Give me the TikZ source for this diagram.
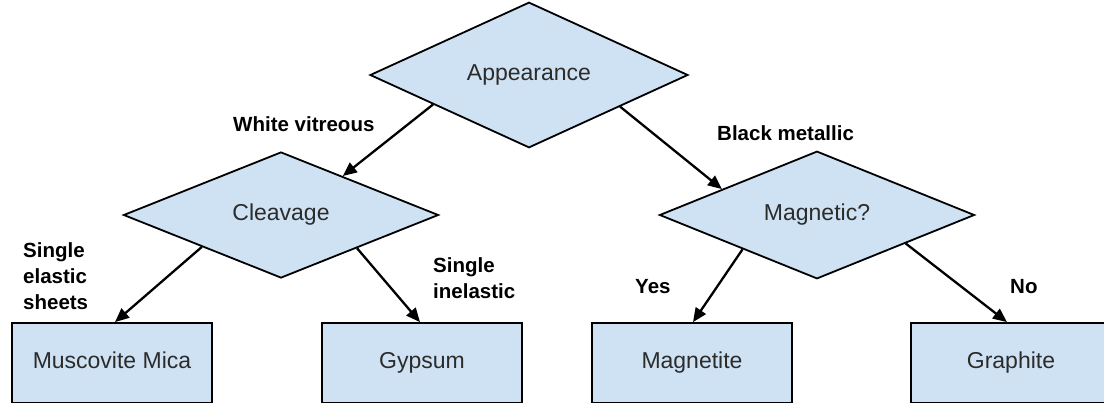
\documentclass[tikz,border=0pt]{standalone}
\usepackage{fontspec}
\setmainfont{Liberation Sans}
\usetikzlibrary{calc, shapes.geometric, arrows.meta}
\definecolor{boxblue}{HTML}{CFE2F3}
\definecolor{textgray}{HTML}{2B2B2B}
\tikzset{
  test/.style = {diamond, draw, line width=1.8pt, fill=boxblue, inner sep=0pt,
    minimum width=315pt, minimum height=126pt, text=textgray,
    text height=16.5pt, text depth=5pt,
    font=\fontsize{23}{27}\selectfont},
  leaf/.style = {rectangle, draw, line width=1.8pt, fill=boxblue,
    minimum width=200pt, minimum height=80pt, text=textgray,
    text height=16.5pt, text depth=5pt,
    font=\fontsize{23}{27}\selectfont},
  branch/.style = {align=left, inner sep=0pt, font=\bfseries\fontsize{20.5}{26}\selectfont},
  link/.style = {-{Triangle[length=14pt,width=12pt]}, line width=2.3pt}
}

\begin{document}
\begin{tikzpicture}[x=1pt, y=-1pt]
        \useasboundingbox (0,0) rectangle (1104,402);
        % decision nodes
        \node (appear) [test, minimum width=318pt] at (529,75) {Appearance};
        \node (cleav) [test] at (281,215) {Cleavage};
        \node (magn) [test] at (817,215) {Magnetic?};
        % minerals
        \node (mica) [leaf] at (112,363) {Muscovite Mica};
        \node (gyps) [leaf] at (422,363) {Gypsum};
        \node (magt) [leaf] at (692,363) {Magnetite};
        \node (graph) [leaf] at (1011,363) {Graphite};
        % branch labels
        \node [branch, anchor=west] at (233,124) {White vitreous};
        \node [branch, anchor=west] at (717,133) {Black metallic};
        \node [branch, anchor=west] at (23,276) {Single\\elastic\\sheets};
        \node [branch, anchor=west] at (433,278) {Single\\inelastic};
        \node [branch, anchor=west] at (635,287) {Yes};
        \node [branch, anchor=west] at (1010,287) {No};
        % arrows
        \draw[link] ($(appear.west)!0.4!(appear.south)$) -- ($(cleav.north)!0.39!(cleav.east)$);
        \draw[link] ($(appear.south)!0.57!(appear.east)$) -- ($(magn.west)!0.4!(magn.north)$);
        \draw[link] ($(cleav.west)!0.5!(cleav.south)$) -- ([xshift=3pt]mica.north);
        \draw[link] ($(cleav.south)!0.48!(cleav.east)$) -- ([xshift=-2pt]gyps.north);
        \draw[link] ($(magn.west)!0.53!(magn.south)$) -- ([xshift=1pt]magt.north);
        \draw[link] ($(magn.south)!0.56!(magn.east)$) -- ([xshift=-4pt]graph.north);
    \end{tikzpicture}
\end{document}
